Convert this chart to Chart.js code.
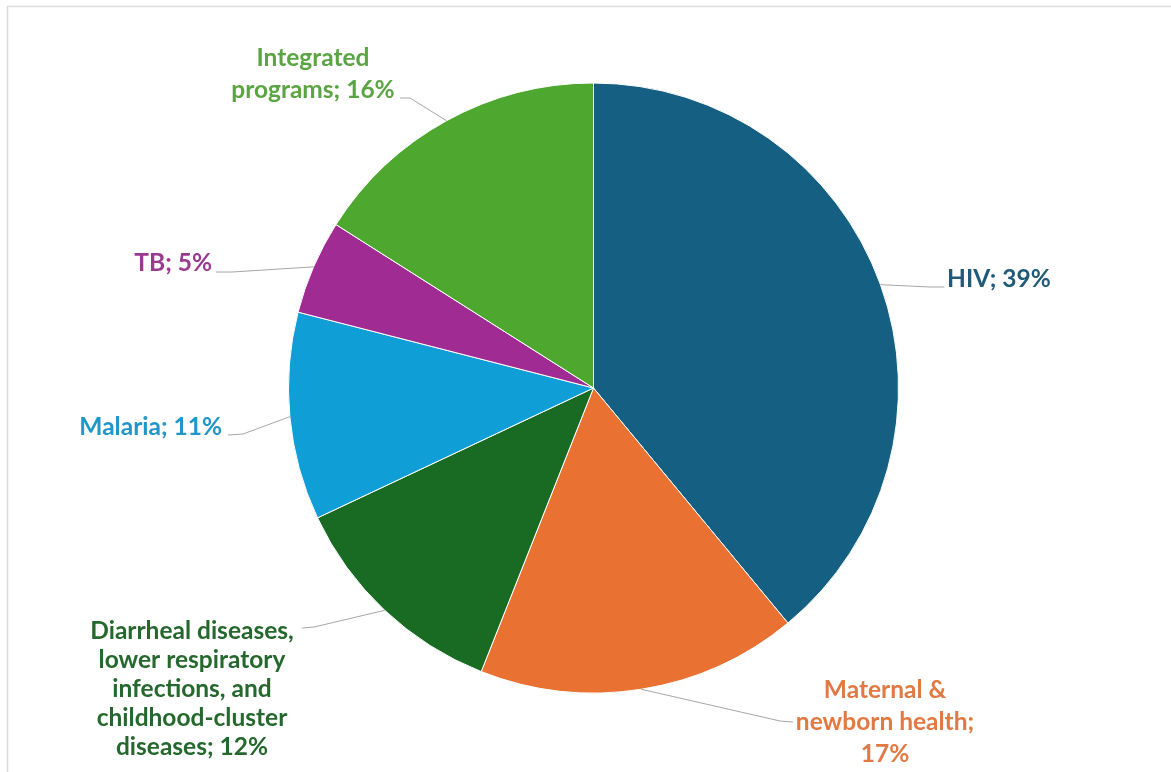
<!DOCTYPE html>
<html>
<head>
<meta charset="utf-8">
<script src="https://cdn.jsdelivr.net/npm/chart.js@4.4.1/dist/chart.umd.min.js"></script>
<style>
html,body{margin:0;padding:0;background:#fff;}
#wrap{position:relative;width:1171px;height:772px;}
</style>
</head>
<body>
<div id="wrap"><canvas id="c" width="1171" height="772"></canvas></div>
<script>
const categories = ["HIV", "Maternal & newborn health", "Diarrheal diseases, lower respiratory infections, and childhood-cluster diseases", "Malaria", "TB", "Integrated programs"];
const shares = [39, 17, 12, 11, 5, 16];
const labelLines = [
  ["HIV; 39%"],
  ["Maternal &", "newborn health;", "17%"],
  ["Diarrheal diseases,", "lower respiratory", "infections, and", "childhood-cluster", "diseases; 12%"],
  ["Malaria; 11%"],
  ["TB; 5%"],
  ["Integrated", "programs; 16%"]
];
const sliceColors = ["#156082", "#E97132", "#196B24", "#0F9ED5", "#A02B93", "#4EA72E"];
const textColors = ["#1f5a78", "#e07a42", "#25682d", "#2196c8", "#9a3a8e", "#5ba443"];

// label placement (text block anchor x, first line center y, alignment, leader end point)
const labelLayout = [
  {x: 947, y: 279, align: "left",   lh: 30, end: [944, 287], elbow: [930, 287]},
  {x: 885, y: 690, align: "center", lh: 32, end: [793, 722], elbow: [780, 721]},
  {x: 192, y: 631, align: "center", lh: 29, end: [302, 628], elbow: [314, 627]},
  {x: 222, y: 427, align: "right",  lh: 30, end: [228, 435], elbow: [243, 434]},
  {x: 212, y: 263, align: "right",  lh: 30, end: [216, 272], elbow: [232, 272]},
  {x: 313, y: 58,  align: "center", lh: 32, end: [400, 98],  elbow: [410, 98]}
];

const FONT = "bold 24.5px Lato";

const framePlugin = {
  id: "frame",
  beforeDraw(chart) {
    const ctx = chart.ctx;
    ctx.save();
    ctx.strokeStyle = "#dcdcdc";
    ctx.lineWidth = 1.5;
    ctx.beginPath();
    ctx.moveTo(7.5, 772);
    ctx.lineTo(7.5, 6.5);
    ctx.lineTo(1171, 6.5);
    ctx.stroke();
    ctx.restore();
  }
};

const labelPlugin = {
  id: "outLabels",
  afterDatasetsDraw(chart) {
    const ctx = chart.ctx;
    const meta = chart.getDatasetMeta(0);
    ctx.save();
    meta.data.forEach((arc, i) => {
      const p = arc.getProps(["x", "y", "startAngle", "endAngle", "outerRadius"], true);
      const mid = (p.startAngle + p.endAngle) / 2;
      const sx = p.x + Math.cos(mid) * p.outerRadius;
      const sy = p.y + Math.sin(mid) * p.outerRadius;
      const L = labelLayout[i];
      ctx.strokeStyle = "#a6a6a6";
      ctx.lineWidth = 1;
      ctx.beginPath();
      ctx.moveTo(sx, sy);
      ctx.lineTo(L.elbow[0], L.elbow[1]);
      ctx.lineTo(L.end[0], L.end[1]);
      ctx.stroke();
      ctx.fillStyle = textColors[i];
      ctx.font = FONT;
      ctx.textAlign = L.align;
      ctx.textBaseline = "middle";
      labelLines[i].forEach((t, k) => {
        ctx.fillText(t, L.x, L.y + k * L.lh);
      });
    });
    ctx.restore();
  }
};

new Chart(document.getElementById("c"), {
  type: "pie",
  data: {
    labels: categories,
    datasets: [{
      data: shares,
      backgroundColor: sliceColors,
      borderColor: "#ffffff",
      borderWidth: 1,
      hoverOffset: 0,
      offset: 0
    }]
  },
  options: {
    responsive: false,
    animation: false,
    events: [],
    layout: {padding: {left: 288, right: 272, top: 82.5, bottom: 78.5}},
    plugins: {legend: {display: false}, tooltip: {enabled: false}}
  },
  plugins: [framePlugin, labelPlugin]
});
</script>
</body>
</html>
